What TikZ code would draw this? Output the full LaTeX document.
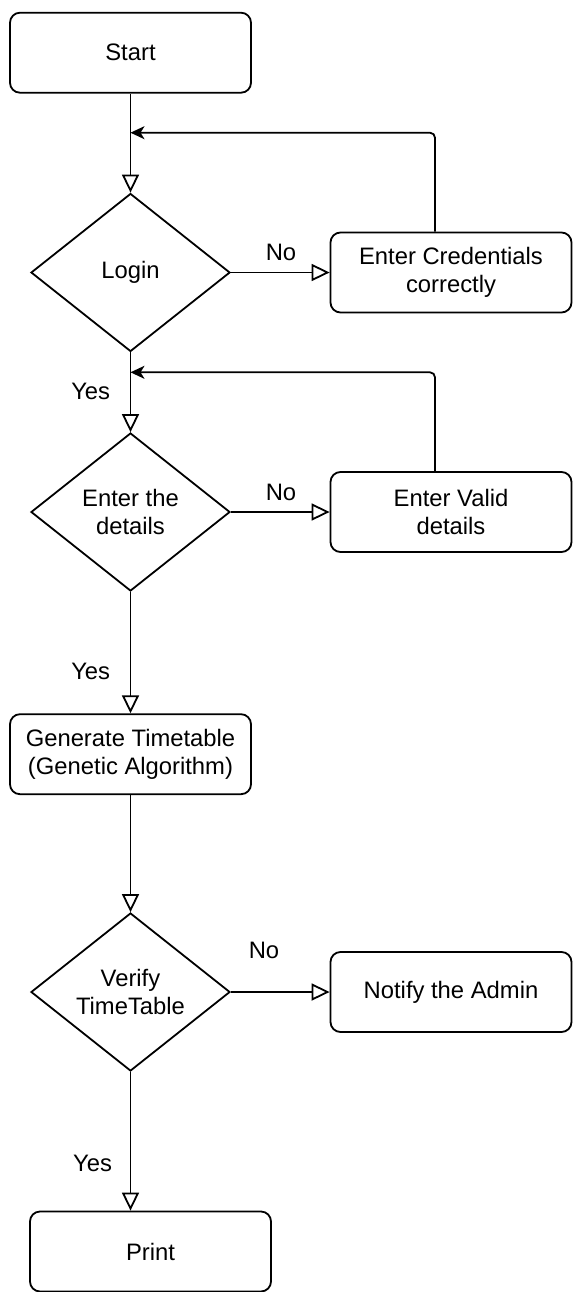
\documentclass[tikz,border=0pt]{standalone}
\usepackage{fontspec}
\setmainfont{Liberation Sans}
\usetikzlibrary{shapes.geometric,arrows.meta}

\begin{document}
\begin{tikzpicture}[x=0.5pt,y=-0.5pt,
	font=\fontsize{11.9pt}{14pt}\selectfont,
	box/.style={rectangle, rounded corners=5pt, draw, line width=0.9pt, minimum width=120.5pt, minimum height=40pt, align=center, inner sep=0pt},
	decision/.style={diamond, draw, line width=0.9pt, minimum width=99.5pt, minimum height=79pt, align=center, inner sep=0pt},
	flow/.style={line width=0.9pt, -{Triangle[open, length=9pt, width=8.5pt]}},
	back/.style={line width=0.9pt, rounded corners=2.5pt, -{Stealth[length=7pt, width=6.5pt, inset=2pt]}},
	lbl/.style={inner sep=0pt}]
			\useasboundingbox (0,0) rectangle (573,1292);

			% Nodes
			\node[box] (start) at (130.5,52.7) {Start};
			\node[decision] (login) at (130.5,272.5) {Login};
			\node[box] (cred) at (451,272.5) {Enter Credentials\\correctly};
			\node[decision] (details) at (130.5,512) {Enter the\\details};
			\node[box] (valid) at (451,512) {Enter Valid\\details};
			\node[box] (generate) at (130.5,754.2) {Generate Timetable\\(Genetic Algorithm)};
			\node[decision] (verify) at (130.5,992) {Verify\\TimeTable};
			\node[box] (notify) at (451,992) {Notify the Admin};
			\node[box] (print) at (150.5,1251.5) {Print};

			% Labels
			\node[lbl] (no1) at (281,252) {No};
			\node[lbl] (no2) at (281,492) {No};
			\node[lbl] (no3) at (264,950) {No};
			\node[lbl] (yes1) at (90.7,391.7) {Yes};
			\node[lbl] (yes2) at (90.7,671.7) {Yes};
			\node[lbl] (yes3) at (92.6,1163) {Yes};

			% Join points of the loops
			\coordinate (join1) at (130.5,132.7);
			\coordinate (join2) at (130.5,372.3);

			% Main flow
			\draw[flow] (start) -- (login);
			\draw[flow] (login) -- (details);
			\draw[flow] (details) -- (generate);
			\draw[flow] (generate) -- (verify);
			\draw[flow] (verify.south) -- (verify.south |- print.north);

			% No branches
			\draw[flow] (login) -- (cred);
			\draw[flow] (details) -- (valid);
			\draw[flow] (verify) -- (notify);

			% Loops back
			\draw[back] ([xshift=-8pt]cred.north) |- (join1);
			\draw[back] ([xshift=-8pt]valid.north) |- (join2);

		\end{tikzpicture}
\end{document}
